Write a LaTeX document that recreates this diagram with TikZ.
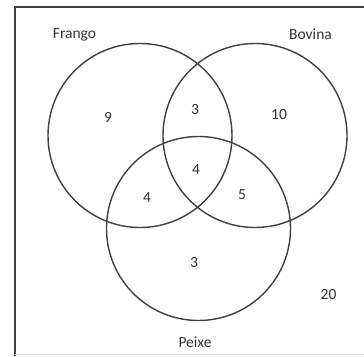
\documentclass[tikz,border=0pt]{standalone}
\usepackage{fontspec}
\setmainfont{Carlito}
\begin{document}
\begin{tikzpicture}[x=1pt,y=-1pt,
  setcircle/.style={draw=black!75,line width=1.4pt},
  lbl/.style={text=black!80,font=\fontsize{15.5}{18}\selectfont,inner sep=0pt},
  num/.style={text=black!80,font=\fontsize{15.5}{18}\selectfont,inner sep=0pt}]
\useasboundingbox (0,0) rectangle (364,356);
\fill[white] (0,0) rectangle (364,356);
% frame
\draw[black!75,line width=2pt] (14.8,356) -- (14.8,7.3) -- (364,7.3);
\draw[black!12,line width=0.8pt] (14.8,354.5) -- (364,354.5);
% circles
\draw[setcircle] (140,135.5) circle (92);
\draw[setcircle] (255,135.5) circle (92);
\draw[setcircle] (198.5,228.5) circle (92);
% set labels
\node[lbl] (frango) at (74.5,35) {Frango};
\node[lbl] (bovina) at (310.5,34) {Bovina};
\node[lbl] (peixe) at (195,342) {Peixe};
% region numbers
\node[num] (n9) at (108,117) {9};
\node[num] (n3a) at (195,110) {3};
\node[num] (n10) at (279,115) {10};
\node[num] (n4c) at (196,170) {4};
\node[num] (n4l) at (147,198) {4};
\node[num] (n5) at (242,195) {5};
\node[num] (n3b) at (194,263) {3};
\node[num] (n20) at (328.5,295) {20};
\end{tikzpicture}
\end{document}
